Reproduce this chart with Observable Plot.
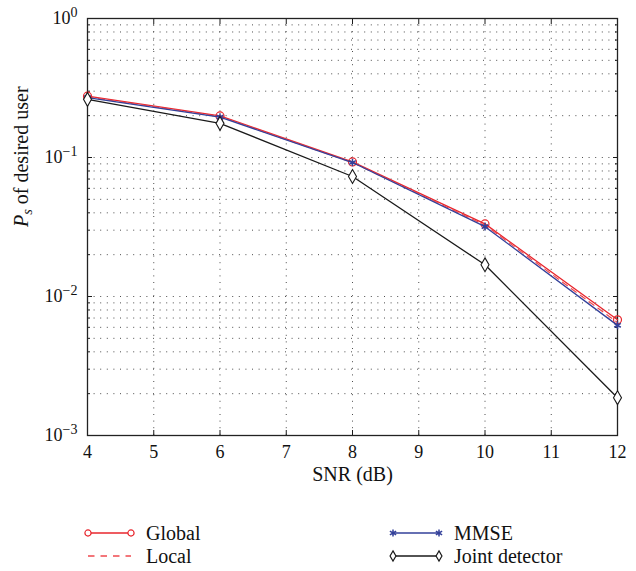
<!DOCTYPE html>
<html>
<head>
<meta charset="utf-8">
<script src="https://cdn.jsdelivr.net/npm/d3@7"></script>
<script src="https://cdn.jsdelivr.net/npm/@observablehq/plot@0.6"></script>
<style>
  html, body { margin: 0; padding: 0; background: #fff; font-family: 'Liberation Serif', 'Times New Roman', serif; }
  #chart { width: 636px; position: relative; }
  svg { display: block; }
  #legend { position: relative; width: 636px; height: 71px; font-size: 20px; color: #111; }
  #legend .lab { position: absolute; line-height: 20px; white-space: nowrap; }
  #legend svg { position: absolute; left: 0; top: 0; }
</style>
</head>
<body>
<div id="chart"></div>
<div id="legend"></div>
<script>
// ---- data ----
const snr = [4, 6, 8, 10, 12];
const globalPs = [0.276, 0.199, 0.093, 0.0333, 0.0068];
const localPs  = [0.273, 0.197, 0.092, 0.0326, 0.0065];
const mmsePs   = [0.270, 0.195, 0.092, 0.0318, 0.0062];
const jointPs  = [0.262, 0.176, 0.073, 0.0169, 0.00187];

const seriesNames = ["Global", "Local", "MMSE", "Joint detector"];
const xTicks = [4, 5, 6, 7, 8, 9, 10, 11, 12];
const yMajor = [0.001, 0.01, 0.1, 1];
const yMinor = [0.002, 0.003, 0.004, 0.005, 0.006, 0.007, 0.008, 0.009,
                0.02, 0.03, 0.04, 0.05, 0.06, 0.07, 0.08, 0.09,
                0.2, 0.3, 0.4, 0.5, 0.6, 0.7, 0.8, 0.9];
const xLabel = "SNR (dB)";
const yLabel = "P_s of desired user";

const RED = "#e8262d", RED2 = "#ef4a4f", BLUE = "#33409a", BLACK = "#1a1a1a";
const FONT = "Liberation Serif, Times New Roman, serif";

const toRows = (vals, name) => snr.map((x, i) => ({x, y: vals[i], name}));
const gRows = toRows(globalPs, seriesNames[0]);
const lRows = toRows(localPs, seriesNames[1]);
const mRows = toRows(mmsePs, seriesNames[2]);
const jRows = toRows(jointPs, seriesNames[3]);

const gridStyle = {stroke: "#3a3a3a", strokeWidth: 1, strokeDasharray: "1,5.6", strokeOpacity: 0.9};

const chart = Plot.plot({
  width: 636,
  height: 500,
  marginLeft: 87,
  marginRight: 19,
  marginTop: 18,
  marginBottom: 65,
  style: {fontFamily: FONT, fontSize: "18px", color: "#111", background: "#fff"},
  x: {domain: [4, 12]},
  y: {type: "log", domain: [0.001, 1]},
  marks: [
    Plot.ruleX(xTicks.slice(1, -1), gridStyle),
    Plot.ruleY(yMinor.concat([0.01, 0.1]), gridStyle),
    // tick labels
    Plot.axisX({ticks: xTicks, tickSize: 0, tickPadding: 10, label: null, tickFormat: d => String(d)}),
    Plot.axisY({ticks: yMajor, tickSize: 0, tickPadding: 10, label: null,
                tickFormat: d => "10^" + Math.round(Math.log10(d))}),
    // inward ticks
    Plot.axisX({ticks: xTicks, tickSize: -5, tickFormat: () => "", label: null, stroke: BLACK}),
    Plot.axisX({anchor: "top", ticks: xTicks, tickSize: -5, tickFormat: () => "", label: null, stroke: BLACK}),
    Plot.axisY({ticks: yMajor, tickSize: -5, tickFormat: () => "", label: null, stroke: BLACK}),
    Plot.axisY({ticks: yMinor, tickSize: -3, tickFormat: () => "", label: null, stroke: BLACK}),
    Plot.axisY({anchor: "right", ticks: yMajor, tickSize: -5, tickFormat: () => "", label: null, stroke: BLACK}),
    Plot.axisY({anchor: "right", ticks: yMinor, tickSize: -3, tickFormat: () => "", label: null, stroke: BLACK}),
    Plot.frame({stroke: "#222", strokeWidth: 1.3}),
    // series
    Plot.line(gRows, {x: "x", y: "y", stroke: RED, strokeWidth: 1.3}),
    Plot.line(lRows, {x: "x", y: "y", stroke: RED2, strokeWidth: 1.2, strokeDasharray: "6,5"}),
    Plot.dot(gRows, {x: "x", y: "y", r: 4, stroke: RED, strokeWidth: 1.2, fill: "none"}),
    Plot.line(mRows, {x: "x", y: "y", stroke: BLUE, strokeWidth: 1.3}),
    Plot.dot(mRows, {x: "x", y: "y", symbol: "asterisk", r: 3.6, stroke: BLUE, strokeWidth: 1.5}),
    Plot.line(jRows, {x: "x", y: "y", stroke: BLACK, strokeWidth: 1.3}),
    Plot.dot(jRows, {x: "x", y: "y", symbol: "diamond", r: 4.2, stroke: BLACK, strokeWidth: 1.1, fill: "#fff"}),
    // axis titles
    Plot.text([xLabel], {frameAnchor: "bottom", dy: 45, fontSize: 20, fill: "#111"}),
    Plot.text([yLabel], {frameAnchor: "left", dx: -66, rotate: -90, fontSize: 20, fill: "#111"})
  ]
});

chart.style.fontFamily = FONT;
document.getElementById("chart").appendChild(chart);

d3.select(chart).selectAll("text").attr("font-family", FONT).each(function () {
  const t = this.textContent;
  const m = /^10\^(-?\d+)$/.exec(t);
  if (m) {
    const sel = d3.select(this);
    sel.text("10");
    sel.append("tspan").attr("dy", "-0.5em").attr("font-size", "0.78em")
       .text(m[1].replace("-", "\u2212"));
  } else if (t === yLabel) {
    const sel = d3.select(this);
    sel.text("");
    sel.append("tspan").attr("font-style", "italic").text("P");
    sel.append("tspan").attr("font-style", "italic").attr("font-size", "0.72em").attr("dy", "0.3em").text("s");
    sel.append("tspan").attr("dy", "-0.22em").text(" of desired user");
  }
});

// legend below the plot: sample lines in svg, labels as HTML text
const legendItems = [
  {name: seriesNames[0], x0: 88, x1: 131, y: 33, stroke: RED, dash: null, marker: "circle"},
  {name: seriesNames[1], x0: 88, x1: 131, y: 56, stroke: RED2, dash: "6.5,6", marker: null},
  {name: seriesNames[2], x0: 393, x1: 439, y: 33, stroke: BLUE, dash: null, marker: "asterisk"},
  {name: seriesNames[3], x0: 393, x1: 439, y: 56, stroke: BLACK, dash: null, marker: "diamond"}
];
const legendDiv = d3.select("#legend");
const legend = legendDiv.append("svg").attr("width", 636).attr("height", 71);
const symbolOf = {circle: d3.symbolCircle, asterisk: d3.symbolAsterisk, diamond: d3.symbolDiamond};
for (const it of legendItems) {
  const g = legend.append("g");
  g.append("line").attr("x1", it.x0).attr("x2", it.x1).attr("y1", it.y).attr("y2", it.y)
    .attr("stroke", it.stroke).attr("stroke-width", 1.3).attr("stroke-dasharray", it.dash);
  if (it.marker) {
    const size = it.marker === "circle" ? 30 : it.marker === "diamond" ? 30 : 36;
    const path = d3.symbol(symbolOf[it.marker], size)();
    for (const x of [it.x0, it.x1]) {
      g.append("path").attr("d", path).attr("transform", `translate(${x},${it.y})`)
        .attr("fill", it.marker === "asterisk" ? "none" : "#fff")
        .attr("stroke", it.stroke).attr("stroke-width", it.marker === "asterisk" ? 1.5 : 1.2);
    }
  }
  legendDiv.append("div").attr("class", "lab")
    .style("left", (it.x1 + 15) + "px").style("top", (it.y - 10) + "px")
    .text(it.name);
}
</script>
</body>
</html>
